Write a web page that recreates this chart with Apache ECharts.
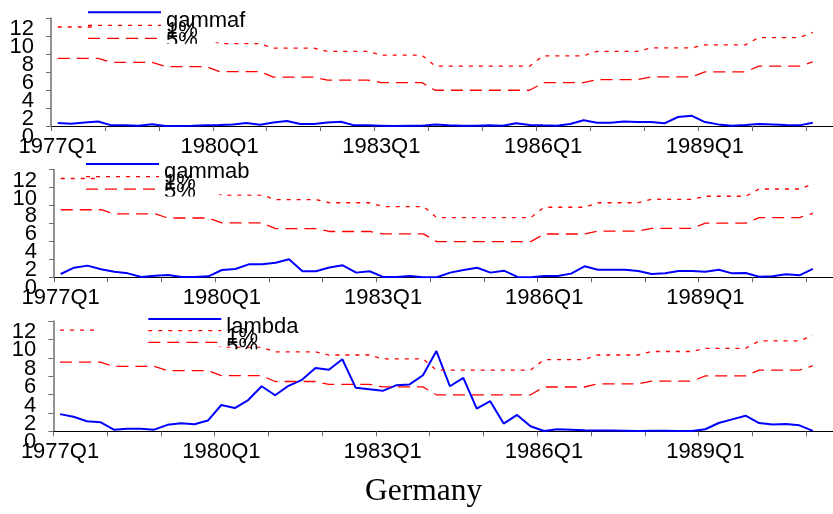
<!DOCTYPE html>
<html>
<head>
<meta charset="utf-8">
<script src="https://cdn.jsdelivr.net/npm/echarts@6/dist/echarts.min.js"></script>
<style>
  html, body { margin: 0; padding: 0; background: #ffffff; }
  #chart { width: 833px; height: 514px; }
</style>
</head>
<body>
<div id="chart"></div>
<script>
// Quarterly sample 1977Q1 .. 1991Q1, axis runs one quarter further
const years = [1977, 1978, 1979, 1980, 1981, 1982, 1983, 1984, 1985, 1986, 1987, 1988, 1989, 1990, 1991];
const categories = [];
years.forEach(function (y) { for (let q = 1; q <= 4; q++) categories.push(y + 'Q' + q); });
categories.length = 58; // through 1991Q2

const yTicks = [0, 2, 4, 6, 8, 10, 12];

// 1% and 5% critical values (held constant within each year)
const crit1 = [
  11.0, 11.0, 11.0, 11.0,
  10.5, 10.5, 10.5, 10.5,
  9.9, 9.9, 9.9, 9.9,
  9.15, 9.15, 9.15, 9.15,
  8.65, 8.65, 8.65, 8.65,
  8.3, 8.3, 8.3, 8.3,
  7.87, 7.87, 7.87, 7.87,
  6.65, 6.65, 6.65, 6.65,
  6.65, 6.65, 6.65, 6.65,
  7.8, 7.8, 7.8, 7.8,
  8.3, 8.3, 8.3, 8.3,
  8.68, 8.68, 8.68, 8.68,
  9.02, 9.02, 9.02, 9.02,
  9.83, 9.83, 9.83, 9.83,
  10.4
];
const crit5 = [
  7.52, 7.52, 7.52, 7.52,
  7.07, 7.07, 7.07, 7.07,
  6.6, 6.6, 6.6, 6.6,
  6.05, 6.05, 6.05, 6.05,
  5.42, 5.42, 5.42, 5.42,
  5.1, 5.1, 5.1, 5.1,
  4.83, 4.83, 4.83, 4.83,
  3.97, 3.97, 3.97, 3.97,
  3.97, 3.97, 3.97, 3.97,
  4.82, 4.82, 4.82, 4.82,
  5.15, 5.15, 5.15, 5.15,
  5.45, 5.45, 5.45, 5.45,
  6.02, 6.02, 6.02, 6.02,
  6.65, 6.65, 6.65, 6.65,
  7.12
];

// Test statistics
const gammaf = [
  0.33, 0.26, 0.4, 0.5, 0.07, 0.07, 0.04, 0.2, 0.0, 0.0, 0.03, 0.07,
  0.1, 0.18, 0.33, 0.15, 0.4, 0.55, 0.22, 0.22, 0.4, 0.48, 0.07, 0.07,
  0.04, 0.0, 0.02, 0.04, 0.18, 0.07, 0.04, 0.04, 0.07, 0.04, 0.3, 0.11,
  0.07, 0.04, 0.22, 0.63, 0.37, 0.37, 0.5, 0.44, 0.44, 0.3, 1.0, 1.15,
  0.44, 0.18, 0.04, 0.1, 0.22, 0.18, 0.1, 0.07, 0.37
];
const gammab = [
  0.37, 1.07, 1.3, 0.89, 0.63, 0.44, 0.04, 0.18, 0.26, 0.04, 0.04, 0.11,
  0.81, 0.93, 1.44, 1.44, 1.63, 2.0, 0.67, 0.67, 1.1, 1.33, 0.52, 0.67,
  0.04, 0.04, 0.15, 0.0, 0.0, 0.52, 0.81, 1.07, 0.52, 0.74, 0.04, 0.0,
  0.15, 0.15, 0.41, 1.22, 0.85, 0.85, 0.85, 0.7, 0.37, 0.44, 0.7, 0.7,
  0.63, 0.85, 0.44, 0.48, 0.07, 0.11, 0.33, 0.22, 0.93
];
const lambda = [
  1.87, 1.58, 1.1, 0.99, 0.18, 0.29, 0.29, 0.18, 0.7, 0.88, 0.77, 1.17,
  2.86, 2.53, 3.4, 4.9, 3.92, 4.95, 5.6, 6.89, 6.7, 7.84, 4.73, 4.58,
  4.4, 5.0, 5.1, 6.1, 8.73, 4.9, 5.82, 2.47, 3.27, 0.84, 1.78, 0.55,
  0.04, 0.22, 0.18, 0.11, 0.1, 0.1, 0.07, 0.04, 0.05, 0.05, 0.04, 0.04,
  0.22, 0.9, 1.3, 1.7, 0.9, 0.73, 0.8, 0.65, 0.04
];

const statNames = ['gammaf', 'gammab', 'lambda'];
const statData = [gammaf, gammab, lambda];
const footerTitle = 'Germany';

const SANS = 'Liberation Sans';
const SERIF = 'Liberation Serif';

// panel frames
const panels = [
  { left: 51,   top: 18,    height: 108,   width: 785 },
  { left: 54,   top: 169.5, height: 107.8, width: 785 },
  { left: 53.3, top: 321,   height: 110.3, width: 786 }
];

// legend placement: first icon centre, icon spacing, text drop below each icon
const legendPos = [
  { left: 87,    icon: 12.3, step: 13.0,  offs: [8.4, 6.1, 3.1] },
  { left: 85,    icon: 164,  step: 12.6,  offs: [8.4, 6.1, 3.1] },
  { left: 147.3, icon: 319,  step: 11.65, offs: [8.4, 6.4, 5.1] }
];

const grids = [], xAxes = [], yAxes = [], series = [], legends = [];
const BOX = 40, IH = 2;
const yMin = yTicks[0], yMax = yTicks[yTicks.length - 1];

const yLabelStyle = { fontFamily: SANS, fontSize: 22, color: '#000', margin: 17, verticalAlign: 'top' };

panels.forEach(function (p, i) {
  grids.push({ left: p.left, top: p.top, width: p.width, height: p.height, containLabel: false });
  xAxes.push({
    type: 'category', gridIndex: i, data: categories, boundaryGap: true,
    axisLine: { show: true, lineStyle: { color: '#000', width: 1.2 } },
    axisTick: { show: true, interval: 3, length: 5, lineStyle: { color: '#666', width: 1 } },
    axisLabel: { interval: 11, fontFamily: SANS, fontSize: 22, color: '#000', margin: 10 },
    splitLine: { show: false }
  });
  // main value axis: line, ticks and the inner labels
  yAxes.push({
    type: 'value', gridIndex: i, min: yMin, max: yMax, interval: 2,
    axisLine: { show: true, lineStyle: { color: '#6e6e6e', width: 1.5 } },
    axisTick: { show: true, length: 5, lineStyle: { color: '#6e6e6e', width: 1 } },
    axisLabel: Object.assign({
      formatter: function (v) { return (v === yMin || v === yMax) ? '' : String(v); }
    }, yLabelStyle),
    splitLine: { show: false }
  });
  // companion axis on the same scale carrying the end labels (0 and 12)
  yAxes.push({
    type: 'value', gridIndex: i, min: yMin, max: yMax, interval: yMax - yMin, position: 'left',
    axisLine: { show: false }, axisTick: { show: false }, splitLine: { show: false },
    axisLabel: Object.assign({}, yLabelStyle)
  });

  series.push({
    name: statNames[i], type: 'line', xAxisIndex: i, yAxisIndex: 2 * i, data: statData[i],
    symbol: 'none', z: 2, lineStyle: { color: '#0000ff', width: 2 }, itemStyle: { color: '#0000ff' }
  });
  series.push({
    name: '1%', type: 'line', xAxisIndex: i, yAxisIndex: 2 * i, data: crit1,
    symbol: 'none', z: 2, lineStyle: { color: '#ff0000', width: 1.3, type: [4, 6] }, itemStyle: { color: '#ff0000' }
  });
  series.push({
    name: '5%', type: 'line', xAxisIndex: i, yAxisIndex: 2 * i, data: crit5,
    symbol: 'none', z: 2, lineStyle: { color: '#ff0000', width: 1.3, type: [12, 7] }, itemStyle: { color: '#ff0000' }
  });

  // each label sits on a second line so it drops below its sample line;
  // symmetric padding keeps every item box the same height
  const lp = legendPos[i];
  const names = [statNames[i], '1%', '5%'];
  legends.push({
    orient: 'vertical', left: lp.left, top: lp.icon - BOX / 2,
    padding: 0, itemWidth: 73, itemHeight: IH, itemGap: lp.step - BOX,
    selectedMode: false, z: 4,
    formatter: '\n{name}',
    itemStyle: { color: 'rgba(0,0,0,0)', borderWidth: 0 },
    lineStyle: { width: 'inherit' },
    textStyle: { fontFamily: SANS, fontSize: 22, color: '#000', backgroundColor: 'rgba(0,0,0,0)' },
    data: names.map(function (n, k) {
      const lh = 2 * lp.offs[k];
      const pad = BOX / 2 - lh;
      return { name: n, textStyle: { lineHeight: lh, padding: [pad, 0, pad, 0] } };
    })
  });
});

// white legend boxes over the plotted lines, and their lower clip edge
const graphics = [
  { type: 'rect', shape: { x: 97, y: 0, width: 165, height: 42.3 }, style: { fill: '#fff' }, z: 3, silent: true },
  { type: 'rect', shape: { x: 97, y: 156, width: 165, height: 38.2 }, style: { fill: '#fff' }, z: 3, silent: true },
  { type: 'rect', shape: { x: 97, y: 310, width: 205, height: 36.4 }, style: { fill: '#fff' }, z: 3, silent: true },
  { type: 'rect', shape: { x: 162, y: 43.8, width: 40, height: 10 }, style: { fill: '#fff' }, z: 10, silent: true },
  { type: 'rect', shape: { x: 160, y: 196.6, width: 40, height: 10 }, style: { fill: '#fff' }, z: 10, silent: true },
  { type: 'rect', shape: { x: 224, y: 349.2, width: 40, height: 10 }, style: { fill: '#fff' }, z: 10, silent: true }
];

const chart = echarts.init(document.getElementById('chart'), null, { renderer: 'canvas' });
chart.setOption({
  animation: false,
  backgroundColor: '#ffffff',
  title: {
    text: footerTitle, left: 365, top: 476, padding: 0,
    textStyle: { fontFamily: SERIF, fontSize: 31.5, fontWeight: 'normal', color: '#000' }
  },
  grid: grids,
  xAxis: xAxes,
  yAxis: yAxes,
  legend: legends,
  series: series,
  graphic: graphics
});
</script>
</body>
</html>
